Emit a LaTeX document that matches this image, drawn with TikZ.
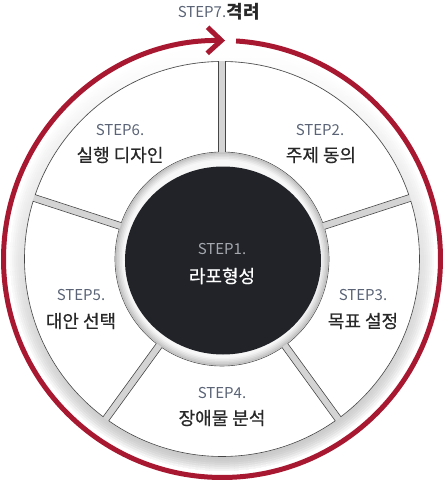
\documentclass[tikz,border=0pt]{standalone}
\usepackage{fontspec}
\setmainfont{Noto Sans CJK KR}
\newfontfamily\kormed{Noto Sans CJK KR}[FakeBold=0.5]
\usetikzlibrary{arrows.meta}
\definecolor{ringred}{RGB}{168,24,48}
\definecolor{coredark}{RGB}{33,35,41}
\definecolor{steptxt}{RGB}{90,100,118}
\definecolor{kortxt}{RGB}{40,40,40}
\definecolor{gapgray}{RGB}{212,212,212}
\definecolor{segline}{RGB}{70,70,70}
\definecolor{coresteptxt}{RGB}{165,168,175}
\begin{document}
\begin{tikzpicture}[x=1pt,y=1pt,
  steplbl/.style={font=\fontsize{15}{15}\selectfont, text=steptxt, inner sep=0},
  korlbl/.style={font=\kormed\fontsize{18}{18}\selectfont, text=kortxt, inner sep=0},
  seg/.style={fill=white, draw=segline, line width=0.6pt},
]
\useasboundingbox (-222,-224) rectangle (222,259);
% outer soft shadow
\shade[top color=white, bottom color=black!22] (0,0) circle (213pt);
\foreach \r/\o in {213/1,211/0.8,209/0.6,207/0.42,205/0.28,203/0.16,201/0.07}
  \draw[white, opacity=\o, line width=2.2pt] (0,0) circle (\r pt);
% base disk (gaps)
\fill[gapgray] (0,0) circle (198pt);
% segments
\foreach \a in {90,18,-54,-126,-198} {
  \pgfmathsetmacro\ao{\a-1.016}
  \pgfmathsetmacro\bo{\a-72+1.016}
  \pgfmathsetmacro\bi{\a-72+1.874}
  \pgfmathsetmacro\ai{\a-1.874}
  \draw[seg] (\ao:197.5pt) arc[start angle=\ao, end angle=\bo, radius=197.5pt]
    -- (\bi:107pt) arc[start angle=\bi, end angle=\ai, radius=107pt] -- cycle;
}
% inner ring gradient
\foreach \r/\c in {106.6/24,105/19,103.5/14,102/10,100.5/6,99/3}
  \fill[black!\c] (0,0) circle (\r pt);
% core
\fill[coredark] (1,-1.5) ellipse [x radius=98pt, y radius=94pt];
% red cycle arrow
\draw[ringred, line width=5pt, -{Straight Barb[length=14pt,width=26pt]}]
  (86.3:218.5pt) arc[start angle=86.3, end angle=-270.8, radius=218.5pt];
% labels
\node[steplbl] (s7) at (-20,247) {STEP7.};
\node[korlbl, font=\fontsize{18}{18}\selectfont\bfseries, anchor=west] (k7) at (s7.east) {격려};
\node[steplbl, text=coresteptxt] (s1) at (0,10) {STEP1.};
\node[korlbl, text=white] (k1) at (0,-17) {라포형성};
\node[steplbl] (s2) at (98,129) {STEP2.};
\node[korlbl] (k2) at (99,104) {주제 동의};
\node[steplbl] (s3) at (141,-36) {STEP3.};
\node[korlbl] (k3) at (141,-62) {목표 설정};
\node[steplbl] (s4) at (0,-134) {STEP4.};
\node[korlbl] (k4) at (0,-159) {장애물 분석};
\node[steplbl] (s5) at (-141,-36) {STEP5.};
\node[korlbl] (k5) at (-141,-62) {대안 선택};
\node[steplbl] (s6) at (-102,129) {STEP6.};
\node[korlbl] (k6) at (-102,104) {실행 디자인};
\end{tikzpicture}
\end{document}
